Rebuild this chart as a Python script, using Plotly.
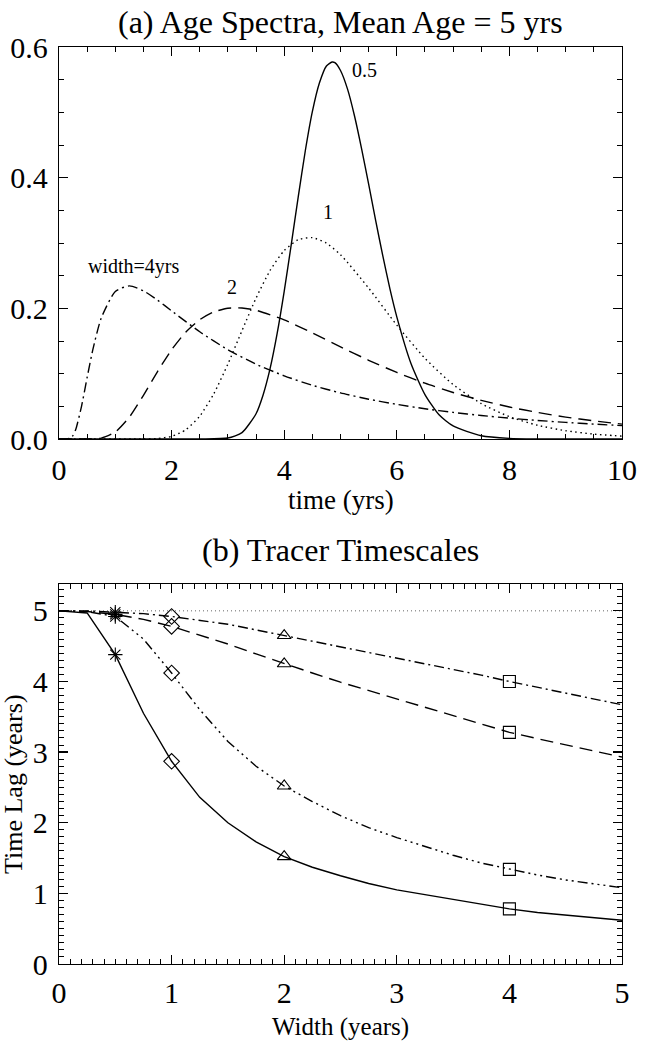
import plotly.graph_objects as go

# ---------------- Panel (a): age spectra ----------------
t_w05 = [0, 2.5, 3.0, 3.25, 3.5, 3.625, 3.75, 3.875, 4.0, 4.125, 4.25, 4.375, 4.5, 4.625, 4.75, 4.85,
         4.9, 5.0, 5.125, 5.25, 5.375, 5.5, 5.625, 5.75, 5.875, 6.0, 6.25, 6.5, 6.75, 7.0, 7.5, 8.0, 8.5, 9.0, 10.0]
g_w05 = [0, 0.0, 0.0015, 0.0097, 0.0387, 0.0674, 0.108, 0.1615, 0.226, 0.2976, 0.371, 0.4412, 0.501, 0.5448,
         0.571, 0.577, 0.576, 0.564, 0.5355, 0.494, 0.4441, 0.390, 0.3341, 0.281, 0.2309, 0.187, 0.116, 0.068,
         0.037, 0.020, 0.005, 0.001, 0.0002, 0.0, 0.0]

t_w1 = [0, 1.5, 1.75, 2.0, 2.25, 2.5, 2.75, 3.0, 3.25, 3.5, 3.75, 4.0, 4.25, 4.5, 4.75, 5.0, 5.5, 6.0, 6.5,
        7.0, 7.5, 8.0, 8.5, 9.0, 9.5, 10.0]
g_w1 = [0, 0.0001, 0.0007, 0.004, 0.014, 0.035, 0.0693, 0.1147, 0.1658, 0.2157, 0.258, 0.2884, 0.305, 0.3082,
        0.2997, 0.2821, 0.231, 0.1743, 0.1235, 0.0834, 0.0542, 0.0342, 0.021, 0.0127, 0.0075, 0.0044]

t_w2 = [0, 0.5, 0.75, 1.0, 1.25, 1.5, 1.75, 2.0, 2.25, 2.5, 2.75, 3.0, 3.25, 3.5, 4.0, 4.5, 5.0, 5.5, 6.0,
        6.5, 7.0, 7.5, 8.0, 8.5, 9.0, 9.5, 10.0]
g_w2 = [0, 0.0, 0.0013, 0.0106, 0.0335, 0.0669, 0.1033, 0.1366, 0.1635, 0.1826, 0.1945, 0.2001, 0.2005, 0.197,
        0.1823, 0.1624, 0.141, 0.1205, 0.1019, 0.0854, 0.0712, 0.0592, 0.049, 0.0406, 0.0335, 0.0277, 0.0228]

t_w4 = [0, 0.1, 0.2, 0.25, 0.3, 0.4, 0.5, 0.6, 0.75, 1.0, 1.25, 1.5, 1.75, 2.0, 2.5, 3.0, 3.5, 4.0, 4.5,
        5.0, 5.5, 6.0, 6.5, 7.0, 7.5, 8.0, 8.5, 9.0, 9.5, 10.0]
g_w4 = [0, 0.0, 0.0011, 0.0055, 0.0152, 0.050, 0.0942, 0.1364, 0.185, 0.2259, 0.2343, 0.2268, 0.2126, 0.1961,
        0.1641, 0.1367, 0.1145, 0.0967, 0.0822, 0.0705, 0.0609, 0.053, 0.0463, 0.0407, 0.036, 0.0319,
        0.0284, 0.0254, 0.0228, 0.0205]

# ---------------- Panel (b): tracer timescales ----------------
width_grid = [0, 0.25, 0.5, 0.75, 1.0, 1.25, 1.5, 1.75, 2.0, 2.25, 2.5, 2.75, 3.0, 3.25, 3.5, 3.75, 4.0,
              4.25, 4.5, 4.75, 5.0]
lag_solid = [5.0, 4.97, 4.38, 3.55, 2.87, 2.36, 2.0, 1.73, 1.52, 1.37, 1.25, 1.14, 1.05, 0.98, 0.91, 0.84,
             0.78, 0.73, 0.69, 0.65, 0.62]
lag_dash3dot = [5.0, 4.99, 4.92, 4.6, 4.12, 3.6, 3.15, 2.8, 2.52, 2.3, 2.1, 1.93, 1.79, 1.66, 1.54, 1.43,
                1.34, 1.26, 1.19, 1.13, 1.08]
lag_dash = [5.0, 4.99, 4.95, 4.88, 4.78, 4.66, 4.53, 4.39, 4.25, 4.12, 3.99, 3.87, 3.75, 3.63, 3.51, 3.39,
            3.28, 3.19, 3.10, 3.01, 2.93]
lag_dashdot = [5.0, 5.0, 4.98, 4.96, 4.92, 4.87, 4.81, 4.73, 4.65, 4.58, 4.50, 4.42, 4.34, 4.25, 4.17,
               4.09, 4.00, 3.92, 3.83, 3.75, 3.67]
mean_age = 5.0
marker_widths = [0.5, 1.0, 2.0, 4.0]
marker_symbols = ["asterisk-open", "diamond-open", "triangle-up-open", "square-open"]

FONT = "Liberation Serif, Times New Roman, serif"
LW = 1.4
DOT = "1.5px,3.5px"
DASH = "13px,7px"
DASHDOT = "10px,4px,2px,4px"
DASH3DOT = "10px,4px,2px,4px,2px,4px,2px,4px"
TICKFONT = 30

fig = go.Figure()

for tx, gy, dash in [(t_w05, g_w05, "solid"), (t_w1, g_w1, DOT), (t_w2, g_w2, DASH), (t_w4, g_w4, DASHDOT)]:
    fig.add_trace(go.Scatter(x=tx, y=gy, mode="lines", xaxis="x", yaxis="y",
                             line=dict(color="black", width=LW, dash=dash, shape="spline", smoothing=0.6),
                             hoverinfo="skip"))

fig.add_trace(go.Scatter(x=[width_grid[0], width_grid[-1]], y=[mean_age, mean_age], mode="lines",
                         xaxis="x2", yaxis="y2", line=dict(color="#666666", width=1, dash="1px,3px")))

for ys, dash in [(lag_solid, "solid"), (lag_dash3dot, DASH3DOT), (lag_dash, DASH), (lag_dashdot, DASHDOT)]:
    fig.add_trace(go.Scatter(x=width_grid, y=ys, mode="lines", xaxis="x2", yaxis="y2",
                             line=dict(color="black", width=LW, dash=dash), hoverinfo="skip"))
    my = [ys[width_grid.index(w)] for w in marker_widths]
    fig.add_trace(go.Scatter(x=marker_widths, y=my, mode="markers", xaxis="x2", yaxis="y2",
                             marker=dict(symbol=marker_symbols, size=12, color="black",
                                         line=dict(color="black", width=1.1)),
                             hoverinfo="skip"))

W, H = 653, 1042
L, R = 59, 622
T1, B1 = 47, 439
T2, B2 = 584, 964

def px(x):
    return x / W

def py(y):
    return 1 - y / H

axis_common = dict(showgrid=False, zeroline=False, showline=True, linecolor="black", linewidth=1.3,
                   mirror="allticks", ticks="inside", ticklen=9, tickwidth=1.2, tickcolor="black",
                   tickfont=dict(family=FONT, size=TICKFONT, color="black"))

fig.update_layout(
    width=W, height=H, margin=dict(l=0, r=0, t=0, b=0, autoexpand=False),
    paper_bgcolor="white", plot_bgcolor="white", showlegend=False,
    font=dict(family=FONT, color="black"),
    xaxis=dict(domain=[px(L), px(R)], range=[0, 10], dtick=2, tick0=0, anchor="y", automargin=False,
               minor=dict(dtick=0.5, ticks="inside", ticklen=5, tickcolor="black", tickwidth=1),
               ticklabelstandoff=4, **axis_common),
    yaxis=dict(domain=[py(B1), py(T1)], range=[0, 0.6], dtick=0.2, tick0=0, tickformat=".1f", anchor="x",
               automargin=False,
               minor=dict(dtick=0.05, ticks="inside", ticklen=5, tickcolor="black", tickwidth=1),
               ticklabelstandoff=4, **axis_common),
    xaxis2=dict(domain=[px(L), px(R)], range=[0, 5], dtick=1, tick0=0, anchor="y2", automargin=False,
                minor=dict(dtick=0.1, ticks="inside", ticklen=5, tickcolor="black", tickwidth=1),
                ticklabelstandoff=2, **axis_common),
    yaxis2=dict(domain=[py(B2), py(T2)], range=[0, 5.38], dtick=1, tick0=0, anchor="x2", automargin=False,
                minor=dict(dtick=0.1, ticks="inside", ticklen=5, tickcolor="black", tickwidth=1),
                ticklabelstandoff=4, **axis_common),
)

ann = []
def text(x, y, s, size, xref="paper", yref="paper", angle=0, xanchor="center", yanchor="middle"):
    ann.append(dict(x=x, y=y, xref=xref, yref=yref, text=s, showarrow=False, textangle=angle,
                    xanchor=xanchor, yanchor=yanchor, font=dict(family=FONT, size=size, color="black")))

cx = px((L + R) / 2)
text(cx, py(22), "(a) Age Spectra, Mean Age = 5 yrs", 32)
text(cx, py(500), "time (yrs)", 27)
text(cx, py(550), "(b) Tracer Timescales", 32)
text(cx, py(1027), "Width (years)", 25)
text(px(13), py(784), "Time Lag (years)", 26, angle=-90)

text(5.42, 0.565, "0.5", 20, xref="x", yref="y")
text(4.78, 0.348, "1", 20, xref="x", yref="y")
text(3.07, 0.232, "2", 20, xref="x", yref="y")
text(1.32, 0.264, "width=4yrs", 20, xref="x", yref="y")

fig.update_layout(annotations=ann)
fig.write_html("out.html", config={"displayModeBar": False, "staticPlot": True},
               post_script="document.body.style.margin='0';document.body.style.overflow='hidden';")
